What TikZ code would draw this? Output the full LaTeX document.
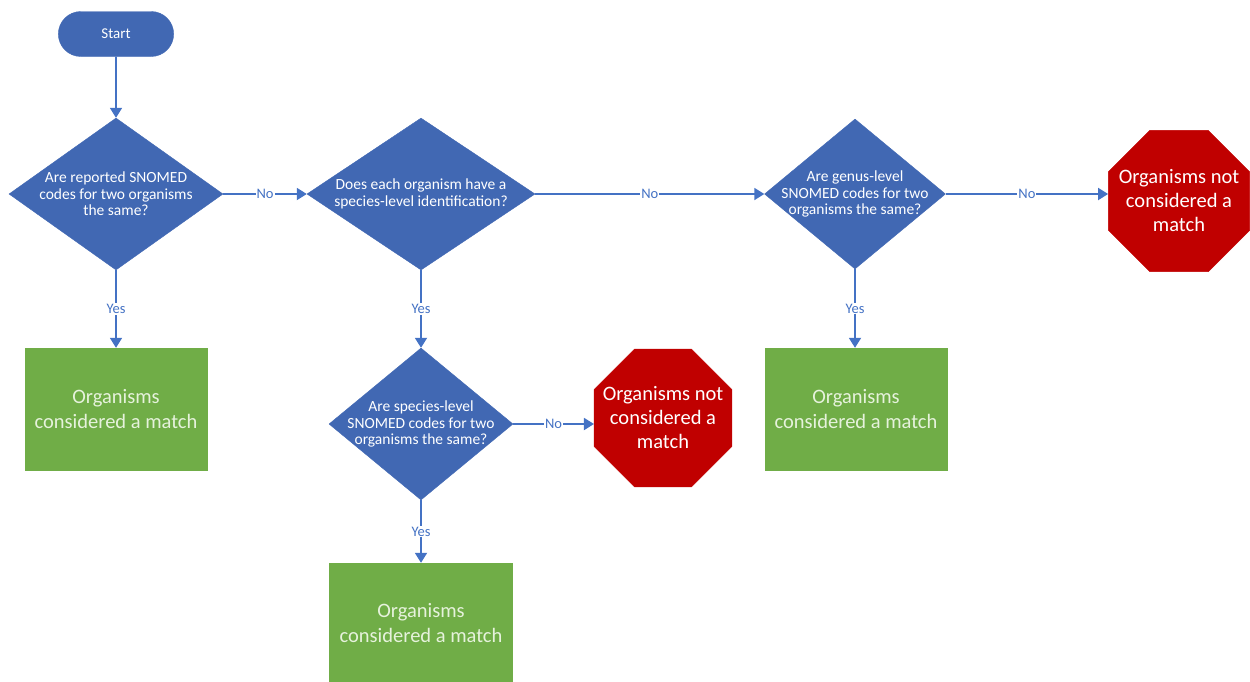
\documentclass[tikz,border=0pt]{standalone}
\usepackage{fontspec}
\setmainfont{Carlito}
\usetikzlibrary{shapes.geometric,shapes.misc,arrows.meta}
\definecolor{fblue}{HTML}{4168B3}
\definecolor{lblue}{HTML}{4472C4}
\definecolor{fgreen}{HTML}{70AD47}
\definecolor{fred}{HTML}{C00000}
\definecolor{gtext}{HTML}{E6F2DC}
\tikzset{
  startbox/.style={rounded rectangle, fill=fblue, draw=fblue, minimum width=122pt, minimum height=45pt, text=white, font=\fontsize{15}{17}\selectfont},
  decision/.style={diamond, fill=fblue, draw=fblue, inner sep=0pt},
  dtext/.style={text=white, align=center, font=\fontsize{15.5}{16.5}\selectfont},
  matchbox/.style={rectangle, fill=fgreen, draw=fgreen, minimum width=182pt, minimum height=122pt, text=gtext, align=center, font=\fontsize{20.5}{25}\selectfont},
  stopsign/.style={regular polygon, regular polygon sides=8, fill=fred, draw=fred, inner sep=0pt},
  otext/.style={text=white, align=center, font=\fontsize{20.5}{24}\selectfont},
  conn/.style={draw=lblue, line width=1.8pt, -{Triangle[width=12pt,length=10pt]}},
  lbl/.style={fill=white, text=lblue, inner sep=1pt, font=\fontsize{14.5}{16}\selectfont},
}
\begin{document}
\begin{tikzpicture}[x=1pt,y=-1pt]
\useasboundingbox (0,0) rectangle (1250,681);
\clip (0,0) rectangle (1250,681);

\node[startbox] (start) at (116,34) {Start};
\node[decision, minimum width=214pt, minimum height=152pt,
  label={[dtext]center:Are reported SNOMED\\codes for two organisms\\the same?}] (d1) at (116,194) {};
\node[decision, minimum width=228pt, minimum height=152pt,
  label={[dtext]center:Does each organism have a\\species-level identification?}] (d2) at (421,194) {};
\node[decision, minimum width=181pt, minimum height=150pt,
  label={[dtext]center:Are genus-level\\SNOMED codes for two\\organisms the same?}] (d3) at (855,194) {};
\node[stopsign, minimum size=153pt,
  label={[otext]center:Organisms not\\considered a\\match}] (oct1) at (1179,201) {};
\node[matchbox] (box1) at (116,409) {Organisms\\considered a match};
\node[decision, minimum width=184pt, minimum height=152pt,
  label={[dtext]center:Are species-level\\SNOMED codes for two\\organisms the same?}] (d4) at (421,424) {};
\node[stopsign, minimum size=149pt,
  label={[otext]center:Organisms not\\considered a\\match}] (oct2) at (663,418) {};
\node[matchbox] (box3) at (856,409) {Organisms\\considered a match};
\node[matchbox, minimum width=183pt] (box4) at (421,624) {};
\node[text=gtext, align=center, font=\fontsize{20.5}{25}\selectfont] (box4t) at (421,623) {Organisms\\considered a match};

\draw[conn] (start) -- (d1);
\draw[conn] (d1) -- node[lbl]{No} (d2);
\draw[conn] (d2) -- node[lbl]{No} (d3);
\draw[conn] (d3.east) -- node[lbl]{No} (d3.east -| oct1.west);
\draw[conn] (d1) -- node[lbl]{Yes} (box1);
\draw[conn] (d2) -- node[lbl]{Yes} (d4);
\draw[conn] (d3.south) -- node[lbl]{Yes} (d3.south |- box3.north);
\draw[conn] (d4.east) -- node[lbl]{No} (d4.east -| oct2.west);
\draw[conn] (d4) -- node[lbl]{Yes} (box4);
\end{tikzpicture}
\end{document}
